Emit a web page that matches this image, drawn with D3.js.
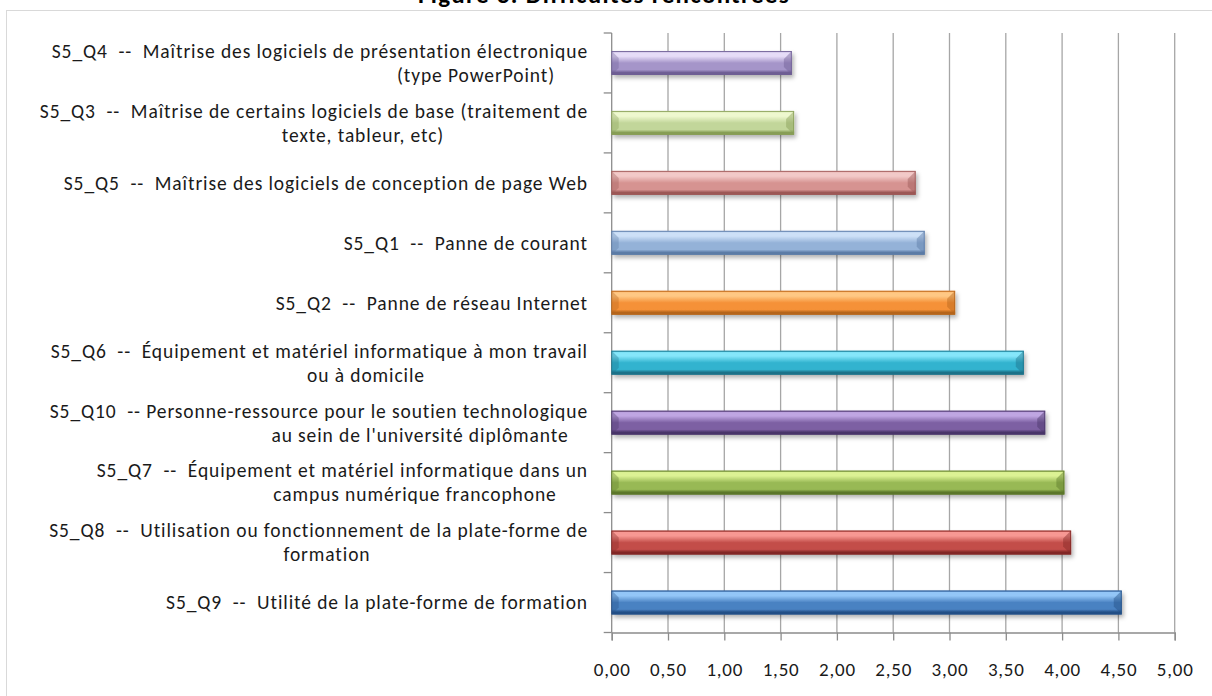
<!DOCTYPE html>
<html><head><meta charset="utf-8">
<script src="https://cdn.jsdelivr.net/npm/d3@7"></script>
<style>
html,body{margin:0;padding:0;background:#fff;}
svg{display:block;}
text{font-family:Calibri,Carlito,Lato,sans-serif;white-space:pre;}
</style></head>
<body>
<svg id="chart" width="1212" height="696"></svg>
<script>
const title = "Figure 3. Difficultés rencontrées";
const codes = ["S5_Q4","S5_Q3","S5_Q5","S5_Q1","S5_Q2","S5_Q6","S5_Q10","S5_Q7","S5_Q8","S5_Q9"];
const line1 = [
 "S5_Q4  --  Maîtrise des logiciels de présentation électronique",
 "S5_Q3  --  Maîtrise de certains logiciels de base (traitement de",
 "S5_Q5  --  Maîtrise des logiciels de conception de page Web",
 "S5_Q1  --  Panne de courant",
 "S5_Q2  --  Panne de réseau Internet",
 "S5_Q6  --  Équipement et matériel informatique à mon travail",
 "S5_Q10  -- Personne-ressource pour le soutien technologique",
 "S5_Q7  --  Équipement et matériel informatique dans un",
 "S5_Q8  --  Utilisation ou fonctionnement de la plate-forme de",
 "S5_Q9  --  Utilité de la plate-forme de formation"
];
const line2 = [
 "(type PowerPoint)",
 "texte, tableur, etc)",
 "",
 "",
 "",
 "ou à domicile",
 "au sein de l'université diplômante",
 "campus numérique francophone",
 "formation",
 ""
];
const values = [1.60, 1.62, 2.70, 2.78, 3.05, 3.66, 3.85, 4.02, 4.08, 4.53];
const xTicks = [0,0.5,1,1.5,2,2.5,3,3.5,4,4.5,5];
// bar colours: [highlight, base, dark]
const palette = [
 ["#e6dcf7","#a595c9","#6e5e94"],
 ["#eef8cf","#c2d69a","#879e56"],
 ["#f2c9c8","#d69391","#9c5856"],
 ["#cde0f7","#94b2d8","#5b7ba6"],
 ["#ffc884","#f59137","#b5651c"],
 ["#85e6fa","#32b3cf","#1c7289"],
 ["#bfa6e2","#7d60a3","#4a3669"],
 ["#dcf294","#98b955","#5c772a"],
 ["#f79893","#c34e4a","#822826"],
 ["#93c6f7","#4a82c2","#244f86"]
];
// layout: centre x of wrapped second lines (as in reference)
const secondLineCenter = [476,363,0,0,0,366,420,415,327,0];

const svg = d3.select("#chart");
const M = {left:611.7, right:1174.7, top:33, bottom:632.5};

const x = d3.scaleLinear().domain([0,5]).range([M.left, M.right]);
const y = d3.scaleBand().domain(codes).range([M.top, M.bottom]).paddingInner(0.6).paddingOuter(0.3);
const step = y.step();

// outer border
svg.append("rect").attr("x",6.5).attr("y",10.5).attr("width",1230).attr("height",720)
  .attr("fill","none").attr("stroke","#d9d9d9");

// title
svg.append("text").attr("x",604).attr("y",2.5).attr("text-anchor","middle")
  .attr("font-weight","bold").attr("font-size",25).attr("letter-spacing",1.3).attr("fill","#000").text(title);

const defs = svg.append("defs");
const f = defs.append("filter").attr("id","sh").attr("x","-5%").attr("y","-40%").attr("width","115%").attr("height","200%");
f.append("feDropShadow").attr("dx",2).attr("dy",3).attr("stdDeviation",2.2).attr("flood-color","#000").attr("flood-opacity",0.3);

palette.forEach((p,i)=>{
  const g = defs.append("linearGradient").attr("id","g"+i).attr("x1",0).attr("y1",0).attr("x2",0).attr("y2",1);
  [[0,p[1]],[0.08,p[0]],[0.22,p[0]],[0.5,p[1]],[0.78,p[1]],[0.9,p[2]],[1,p[2]]].forEach(s=>
    g.append("stop").attr("offset",s[0]).attr("stop-color",s[1]));
});

// gridlines
svg.append("g").selectAll("line").data(xTicks.filter(t=>t>0)).join("line")
  .attr("x1",d=>x(d)).attr("x2",d=>x(d)).attr("y1",M.top).attr("y2",M.bottom)
  .attr("stroke","#a6a6a6").attr("stroke-width",1.3);

// x axis
const xa = svg.append("g").attr("transform",`translate(0,${M.bottom})`)
  .call(d3.axisBottom(x).tickValues(xTicks).tickSize(8).tickPadding(18)
    .tickFormat(d=>d3.format(".2f")(d).replace(".",",")));
xa.select(".domain").attr("stroke","#8c8c8c").attr("stroke-width",1.3);
xa.selectAll(".tick line").attr("stroke","#8c8c8c").attr("stroke-width",1.3);
xa.selectAll("text").attr("font-size",19).attr("letter-spacing",0.8).attr("fill","#1a1a1a").attr("dy","0.9em");

// y axis line + ticks
svg.append("line").attr("x1",M.left).attr("x2",M.left).attr("y1",M.top).attr("y2",M.bottom)
  .attr("stroke","#8c8c8c").attr("stroke-width",1.3);
svg.append("g").selectAll("line").data(d3.range(codes.length+1)).join("line")
  .attr("x1",M.left-8).attr("x2",M.left).attr("y1",d=>M.top+d*step).attr("y2",d=>M.top+d*step)
  .attr("stroke","#8c8c8c").attr("stroke-width",1.3);

// bars
const bars = svg.append("g").selectAll("g").data(codes).join("g");
bars.append("rect")
  .attr("x",x(0)).attr("y",d=>y(d)).attr("width",(d,i)=>x(values[i])-x(0)).attr("height",y.bandwidth())
  .attr("fill",(d,i)=>`url(#g${i})`).attr("filter","url(#sh)");
// bevel end caps
bars.append("path").attr("d",(d,i)=>{
  const x1=x(values[i]), y0=y(d), h=y.bandwidth(), b=8;
  return `M${x1-b},${y0+b}L${x1},${y0}L${x1},${y0+h}L${x1-b},${y0+h-b}Z`;
}).attr("fill",(d,i)=>palette[i][2]).attr("opacity",0.45);
bars.append("path").attr("d",(d,i)=>{
  const x0=x(0), y0=y(d), h=y.bandwidth(), b=7;
  return `M${x0},${y0}L${x0+b},${y0+b}L${x0+b},${y0+h-b}L${x0},${y0+h}Z`;
}).attr("fill",(d,i)=>palette[i][2]).attr("opacity",0.35);
bars.append("rect")
  .attr("x",x(0)).attr("y",d=>y(d)+0.5).attr("width",(d,i)=>x(values[i])-x(0)-0.5).attr("height",y.bandwidth()-1)
  .attr("fill","none").attr("stroke",(d,i)=>palette[i][2]).attr("stroke-width",1).attr("opacity",0.8);

// category labels
const lab = svg.append("g").attr("font-size",19.5).attr("letter-spacing",0.9).attr("fill","#1a1a1a");
codes.forEach((c,i)=>{
  const cy = y(c)+y.bandwidth()/2;
  if(line2[i]){
    lab.append("text").attr("x",588).attr("y",cy-12).attr("dy","0.35em").attr("text-anchor","end").text(line1[i]);
    lab.append("text").attr("x",secondLineCenter[i]).attr("y",cy+12).attr("dy","0.35em").attr("text-anchor","middle").text(line2[i]);
  } else {
    lab.append("text").attr("x",588).attr("y",cy).attr("dy","0.35em").attr("text-anchor","end").text(line1[i]);
  }
});
</script>
</body></html>
